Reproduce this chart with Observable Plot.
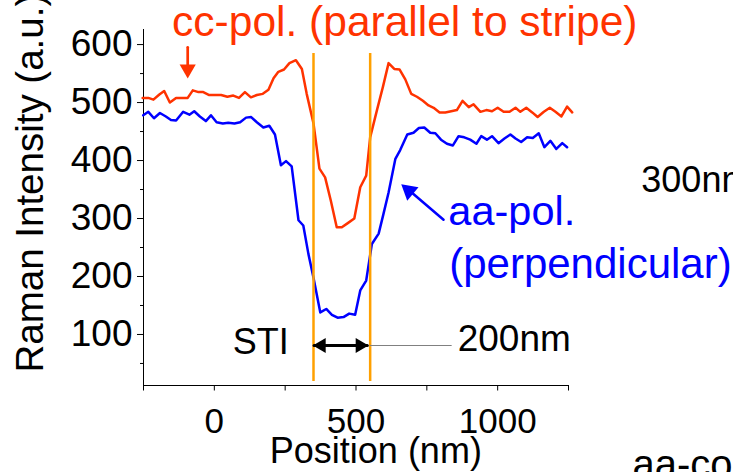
<!DOCTYPE html>
<html><head><meta charset="utf-8">
<script src="https://cdn.jsdelivr.net/npm/d3@7"></script>
<script src="https://cdn.jsdelivr.net/npm/@observablehq/plot@0.6"></script>
<style>html,body{margin:0;padding:0;background:#fff;overflow:hidden}</style>
</head><body><div id="chart"></div>
<script>
// cc-pol. (parallel to stripe)
const ccPosition = [-253,-233,-215,-194,-177,-157,-135,-115,-94,-76,-56,-39,-18,2,24,46,67,87,108,129,150,171,191,209,226,246,265,288,309,326,350,371,391,411,432,450,471,494,515,536,550,574,595,615,635,654,674,695,715,736,756,774,795,815,836,856,876,898,915,939,960,980,1000,1021,1042,1063,1080,1101,1122,1141,1163,1184,1204,1225,1245,1263];
const ccIntensity = [508,508,505,514,520,500,508,508,508,521,518,518,513,513,513,510,512,508,518,509,513,515,522,542,553,557,568,573,558,515,464,386,371,331,285,285,292,300,354,374,440,487,527,568,558,557,540,515,510,503,495,491,483,483,485,487,503,492,497,484,487,485,491,484,484,491,484,491,483,475,484,491,484,476,493,483];
// aa-pol. (perpendicular)
const aaPosition = [-251,-233,-213,-192,-171,-153,-135,-110,-88,-71,-51,-30,-12,8,30,49,71,91,112,130,150,173,194,214,235,253,273,297,314,332,350,374,395,415,435,456,476,497,515,536,556,580,597,615,639,656,681,703,722,741,762,780,800,821,842,862,882,903,925,942,962,980,1003,1024,1045,1063,1083,1104,1124,1145,1165,1186,1207,1228,1245];
const aaIntensity = [478,484,473,482,476,470,469,484,479,485,476,468,478,466,464,465,464,466,474,475,466,457,460,445,392,399,390,297,288,239,198,138,144,134,129,130,136,134,176,193,256,274,308,345,403,418,445,448,456,457,448,447,436,429,426,442,440,436,429,442,436,442,430,438,445,438,432,440,439,447,423,434,420,430,423];

const xMajorTicks = [0, 500, 1000];
const xMinorTicks = [-250, 250, 750, 1250];
const yMajorTicks = [100, 200, 300, 400, 500, 600];
const yMinorTicks = [50, 150, 250, 350, 450, 550];
const stiEdges = [350, 550];

const cc = ccPosition.map((x, i) => ({x, y: ccIntensity[i]}));
const aa = aaPosition.map((x, i) => ({x, y: aaIntensity[i]}));

const FONT = "'Liberation Sans', Arial, Helvetica, sans-serif";
const RED = "#ff3300", BLUE = "#0000ff", ORANGE = "#ffa000";

const plot = Plot.plot({
  width: 733, height: 472,
  marginLeft: 143, marginRight: 165, marginTop: 29, marginBottom: 87,
  style: {fontFamily: FONT, background: "#fff", overflow: "hidden", color: "#000"},
  x: {domain: [-250, 1250], label: null},
  y: {domain: [12, 626], label: null},
  marks: [
    Plot.axisX({ticks: xMajorTicks, tickSize: 5.5, tickPadding: 17, fontSize: 35, tickFormat: "d", label: null}),
    Plot.axisX({ticks: xMinorTicks, tickSize: 5.5, tickFormat: () => "", label: null}),
    Plot.axisY({ticks: yMajorTicks, tickSize: 6, tickPadding: 5, fontSize: 37, tickFormat: "d", label: null}),
    Plot.axisY({ticks: yMinorTicks, tickSize: 3, tickFormat: () => "", label: null}),
    Plot.ruleX([-250], {stroke: "#000", strokeWidth: 1}),
    Plot.ruleY([12], {stroke: "#000", strokeWidth: 1}),
    Plot.line(cc, {x: "x", y: "y", stroke: RED, strokeWidth: 2.5}),
    Plot.line(aa, {x: "x", y: "y", stroke: BLUE, strokeWidth: 2.5}),
    Plot.ruleX(stiEdges, {y1: 19, y2: 584.5, stroke: ORANGE, strokeWidth: 2.5}),
    // cc-pol annotation
    Plot.text(["cc-pol. (parallel to stripe)"], {x: -149, y: 615.2, text: d => d, textAnchor: "start", lineAnchor: "bottom", fontSize: 42.5, fill: RED}),
    Plot.line([[-94, 595.3], [-94, 563]], {stroke: RED, strokeWidth: 2.7}),
    Plot.dot([[-94, 557.4]], {x: d => d[0], y: d => d[1], symbol: "triangle", r: 6, fill: RED, stroke: "none", rotate: 180}),
    // aa-pol annotation
    Plot.line([[809, 298], [684, 350]], {stroke: BLUE, strokeWidth: 2.5}),
    Plot.dot([[687, 348]], {x: d => d[0], y: d => d[1], symbol: "triangle", r: 6.5, fill: BLUE, stroke: "none", rotate: -50}),
    Plot.text(["aa-pol."], {x: 826, y: 288, text: d => d, textAnchor: "start", lineAnchor: "bottom", fontSize: 41.5, fill: BLUE}),
    Plot.text(["(perpendicular)"], {x: 829, y: 197.5, text: d => d, textAnchor: "start", lineAnchor: "bottom", fontSize: 42, fill: BLUE}),
    // STI width
    Plot.line([[352, 81], [540, 81]], {stroke: "#000", strokeWidth: 3}),
    Plot.dot([[378, 81]], {x: d => d[0], y: d => d[1], symbol: "triangle", r: 5.5, fill: "#000", stroke: "none", rotate: -90}),
    Plot.dot([[514, 81]], {x: d => d[0], y: d => d[1], symbol: "triangle", r: 5.5, fill: "#000", stroke: "none", rotate: 90}),
    Plot.line([[550, 81], [836, 81]], {stroke: "#808080", strokeWidth: 1.2}),
    Plot.text(["STI"], {x: 65, y: 66.7, text: d => d, textAnchor: "start", lineAnchor: "bottom", fontSize: 36, fill: "#000"}),
    Plot.text(["200nm"], {x: 859, y: 71.5, text: d => d, textAnchor: "start", lineAnchor: "bottom", fontSize: 37, fill: "#000"}),
    // neighbouring panel fragments
    Plot.text(["300nm"], {x: 1507, y: 345.6, text: d => d, textAnchor: "start", lineAnchor: "bottom", fontSize: 36, fill: "#000"}),
    Plot.text(["aa-conf."], {x: 1476, y: -146.8, text: d => d, textAnchor: "start", lineAnchor: "bottom", fontSize: 40, fill: "#000"}),
    // axis titles
    Plot.text(["Position (nm)"], {x: 570, y: -122, text: d => d, textAnchor: "middle", lineAnchor: "bottom", fontSize: 36, fill: "#000"}),
    Plot.text(["Raman Intensity (a.u.)"], {x: -604, y: 34.4, text: d => d, rotate: -90, textAnchor: "start", lineAnchor: "bottom", fontSize: 38.5, fill: "#000"})
  ]
});
document.getElementById("chart").appendChild(plot);
</script>
</body></html>
